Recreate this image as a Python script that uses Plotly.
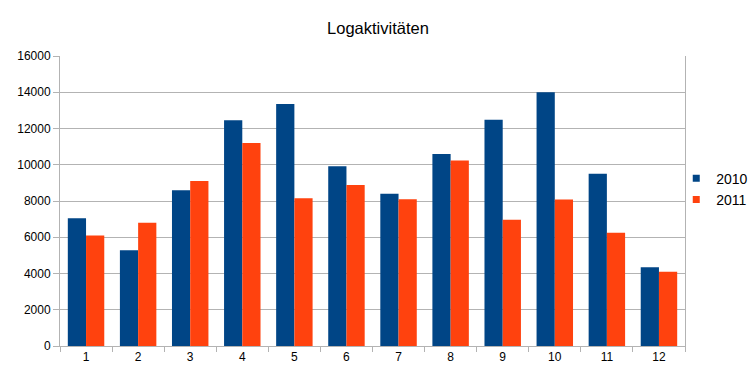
import plotly.graph_objects as go

months = ["1", "2", "3", "4", "5", "6", "7", "8", "9", "10", "11", "12"]
values_2010 = [7050, 5280, 8600, 12450, 13350, 9920, 8400, 10600, 12480, 14000, 9500, 4350]
values_2011 = [6100, 6800, 9100, 11200, 8150, 8880, 8100, 10230, 6960, 8080, 6250, 4100]
y_ticks = [0, 2000, 4000, 6000, 8000, 10000, 12000, 14000, 16000]
y_labels = [str(v) for v in y_ticks]
series_names = ["2010", "2011"]
series_colors = ["#004586", "#ff420e"]

FONT = "Liberation Sans, Arial, sans-serif"
GRID = "#b3b3b3"

fig = go.Figure()
for name, vals, col in zip(series_names, [values_2010, values_2011], series_colors):
    fig.add_trace(go.Bar(x=months, y=vals, name=name, showlegend=False,
                         marker=dict(color=col, line=dict(width=0))))
# legend entries with small square swatches
for name, col in zip(series_names, series_colors):
    fig.add_trace(go.Scatter(x=[None], y=[None], mode="markers", name=name,
                             marker=dict(symbol="square", size=7, color=col)))

fig.update_layout(
    width=756, height=378,
    margin=dict(l=60, r=71, t=56, b=32, autoexpand=False),
    paper_bgcolor="white", plot_bgcolor="white",
    font=dict(family=FONT, size=12, color="black"),
    title=dict(text="Logaktivitäten", x=0.5, xanchor="center", y=1 - 28/378, yanchor="middle",
               font=dict(family=FONT, size=16.5, color="black")),
    barmode="group", bargap=0.3, bargroupgap=0,
    legend=dict(x=0.986, xanchor="left", y=0.541, yanchor="middle", bgcolor="rgba(0,0,0,0)",
                font=dict(family=FONT, size=14), tracegroupgap=0, itemwidth=30),
    showlegend=True,
)
fig.update_xaxes(type="category", tickson="boundaries", ticks="outside", ticklen=5, tickcolor=GRID,
                 showline=True, linecolor=GRID, linewidth=1, mirror=False, showgrid=False,
                 tickfont=dict(size=12), fixedrange=True, automargin=False)
fig.update_yaxes(range=[0, 16000], tickvals=y_ticks, ticktext=y_labels, ticks="outside", ticklen=6, tickcolor=GRID,
                 showline=True, linecolor=GRID, linewidth=1, mirror=True,
                 showgrid=True, gridcolor=GRID, gridwidth=1, zeroline=False,
                 tickfont=dict(size=12), fixedrange=True, automargin=False)

fig.write_html("out.html", post_script="document.body.style.margin='0';",
               config={"displayModeBar": False})
